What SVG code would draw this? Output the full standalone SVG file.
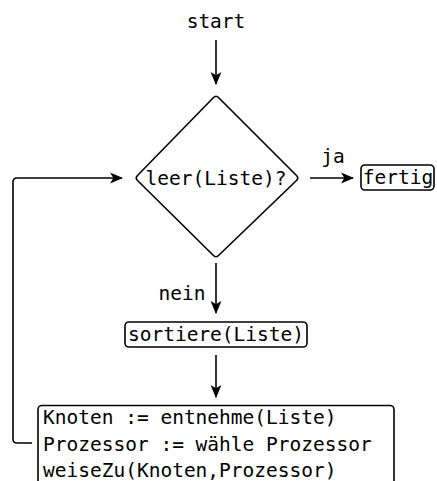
<svg xmlns="http://www.w3.org/2000/svg" width="437" height="481" viewBox="0 0 437 481">
<defs>
<marker id="ah" viewBox="0 0 12 12" refX="11" refY="6" markerWidth="13" markerHeight="13" markerUnits="userSpaceOnUse" orient="auto">
<path d="M0,1 L12,6 L0,11 L3,6 Z" fill="#000"/>
</marker>
</defs>
<style>
text{font-family:"DejaVu Sans Mono",monospace;font-size:19.5px;fill:#000}
.n{fill:#fff;stroke:#000;stroke-width:1.6}
.c{fill:none;stroke:#000;stroke-width:1.6;marker-end:url(#ah)}
</style>
<rect width="437" height="481" fill="#fff"/>
<g id="start"><text x="216" y="28" text-anchor="middle">start</text></g>
<g id="decision">
<path class="n" d="M213.5,97.5 Q216,95 218.5,97.5 L296.5,175.5 Q299,178 296.5,180.5 L218.5,255.5 Q216,258 213.5,255.5 L137.5,180.5 Q135,178 137.5,175.5 Z" stroke-linejoin="round"/>
<text x="216" y="185" text-anchor="middle">leer(Liste)?</text>
</g>
<g id="fertig">
<rect class="n" x="361" y="165" width="73" height="25" rx="4"/>
<text x="398" y="184" text-anchor="middle">fertig</text>
</g>
<g id="sortiere">
<rect class="n" x="125" y="322" width="182" height="25" rx="4"/>
<text x="216" y="341" text-anchor="middle">sortiere(Liste)</text>
</g>
<g id="assign">
<rect class="n" x="38" y="405.5" width="356" height="90" rx="4"/>
<text x="43" y="424">Knoten := entnehme(Liste)</text>
<text x="43" y="451">Prozessor := wähle Prozessor</text>
<text x="43" y="477">weiseZu(Knoten,Prozessor)</text>
</g>
<g id="connectors">
<path class="c" d="M216,40 L216,84"/>
<path class="c" d="M310,178 L353,178"/>
<text x="333" y="163" text-anchor="middle">ja</text>
<path class="c" d="M216,263 L216,313"/>
<text x="182" y="300" text-anchor="middle">nein</text>
<path class="c" d="M216,355 L216,397"/>
<path class="c" d="M32,443 L17,443 Q13,443 13,439 L13,182 Q13,178 17,178 L122,178"/>
</g>
</svg>
